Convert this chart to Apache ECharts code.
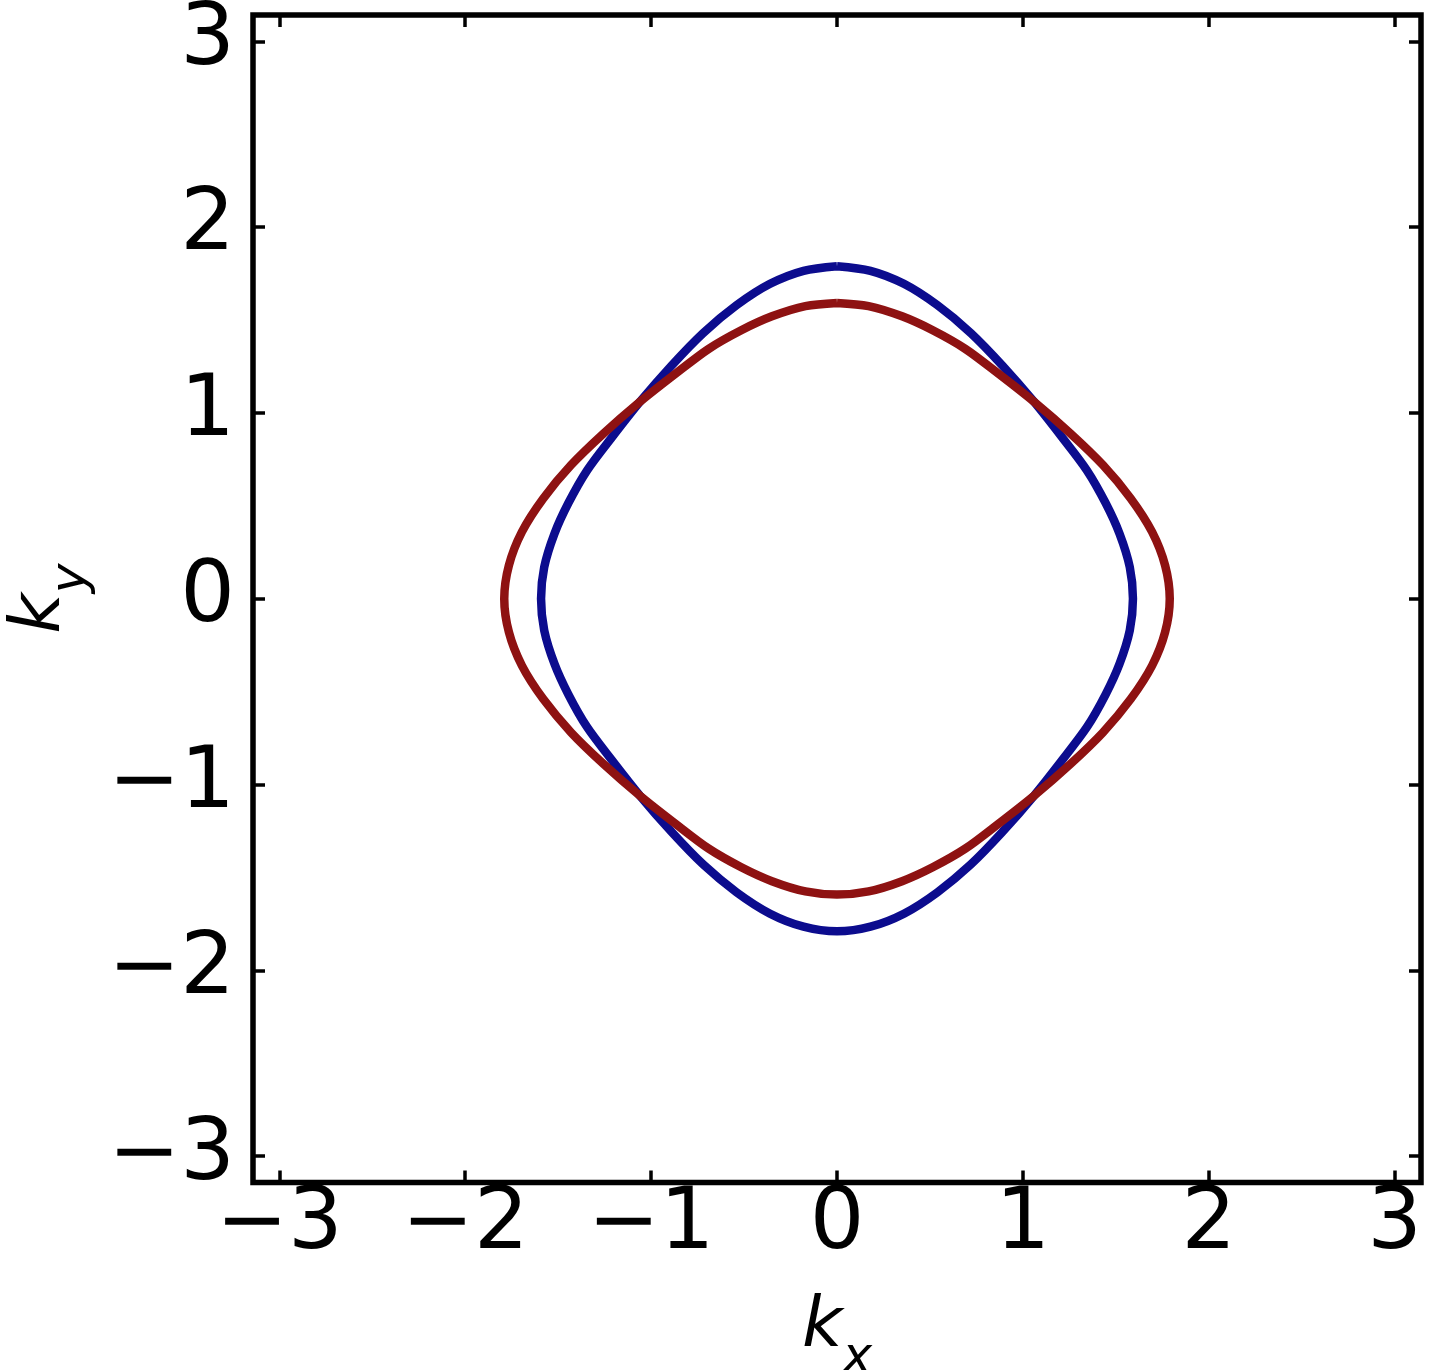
<!DOCTYPE html>
<html>
<head>
<meta charset="utf-8">
<script src="https://cdn.jsdelivr.net/npm/echarts@6/dist/echarts.min.js"></script>
<style>
  html, body { margin: 0; padding: 0; background: #fff; }
  #chart { width: 1436px; height: 1370px; }
</style>
</head>
<body>
<div id="chart"></div>
<script>
// Fermi contours (clockwise from the top)
const blueKx = [0, 0.18, 0.36, 0.54, 0.72, 0.89, 1.06, 1.21, 1.345, 1.445, 1.52, 1.575, 1.592,
  1.575, 1.52, 1.445, 1.345, 1.21, 1.06, 0.89, 0.72, 0.54, 0.36, 0.18, 0,
  -0.18, -0.36, -0.54, -0.72, -0.89, -1.06, -1.21, -1.345, -1.445, -1.52, -1.575, -1.592,
  -1.575, -1.52, -1.445, -1.345, -1.21, -1.06, -0.89, -0.72, -0.54, -0.36, -0.18, 0]
const blueKy = [1.79, 1.765, 1.695, 1.58, 1.43, 1.255, 1.06, 0.87, 0.69, 0.515, 0.35, 0.17, 0,
  -0.17, -0.35, -0.515, -0.69, -0.87, -1.06, -1.255, -1.43, -1.58, -1.695, -1.765, -1.79,
  -1.765, -1.695, -1.58, -1.43, -1.255, -1.06, -0.87, -0.69, -0.515, -0.35, -0.17, 0,
  0.17, 0.35, 0.515, 0.69, 0.87, 1.06, 1.255, 1.43, 1.58, 1.695, 1.765, 1.79]
const redKx = [0, 0.17, 0.35, 0.515, 0.69, 0.87, 1.06, 1.255, 1.43, 1.58, 1.695, 1.765, 1.79,
  1.765, 1.695, 1.58, 1.43, 1.255, 1.06, 0.87, 0.69, 0.515, 0.35, 0.17, 0,
  -0.17, -0.35, -0.515, -0.69, -0.87, -1.06, -1.255, -1.43, -1.58, -1.695, -1.765, -1.79,
  -1.765, -1.695, -1.58, -1.43, -1.255, -1.06, -0.87, -0.69, -0.515, -0.35, -0.17, 0]
const redKy = [1.592, 1.575, 1.52, 1.445, 1.345, 1.21, 1.06, 0.89, 0.72, 0.54, 0.36, 0.18, 0,
  -0.18, -0.36, -0.54, -0.72, -0.89, -1.06, -1.21, -1.345, -1.445, -1.52, -1.575, -1.592,
  -1.575, -1.52, -1.445, -1.345, -1.21, -1.06, -0.89, -0.72, -0.54, -0.36, -0.18, 0,
  0.18, 0.36, 0.54, 0.72, 0.89, 1.06, 1.21, 1.345, 1.445, 1.52, 1.575, 1.592]
const tickValues = [-3, -2, -1, 0, 1, 2, 3]

const font = 'DejaVu Sans'
const fmt = (v) => (v < 0 ? '\u2212' + Math.abs(v) : String(v))
const zip = (xs, ys) => xs.map((x, i) => [x, ys[i]])

function axis(position, showLabel, extra) {
  return Object.assign({
    type: 'value',
    position,
    min: -Math.PI,
    max: Math.PI,
    axisLine: { show: false, onZero: false },
    splitLine: { show: false },
    axisTick: { inside: true, length: 12, customValues: tickValues, lineStyle: { color: '#000', width: 3.5 } },
    axisLabel: {
      show: showLabel,
      customValues: tickValues,
      formatter: fmt,
      fontFamily: font,
      fontSize: 86,
      color: '#000'
    }
  }, extra)
}

const nameRich = {
  k: { fontFamily: font, fontStyle: 'italic', fontSize: 70, color: '#000', padding: [0, 0, 22, 0], verticalAlign: 'bottom' },
  s: { fontFamily: font, fontStyle: 'italic', fontSize: 50, color: '#000', verticalAlign: 'bottom' }
}

const chart = echarts.init(document.getElementById('chart'))
const xBottom = axis('bottom', true, {
  name: '{k|k}{s|x}', nameLocation: 'middle', nameGap: 110, nameTextStyle: { rich: nameRich }
})
xBottom.axisLabel.margin = 0
const yLeft = axis('left', true, {
  name: '{k|k}{s|y}', nameLocation: 'middle', nameGap: 153, nameRotate: 90, nameTextStyle: { rich: nameRich }
})
yLeft.axisLabel.margin = 18

chart.setOption({
  backgroundColor: '#fff',
  animation: false,
  grid: {
    left: 253, top: 15, width: 1168, height: 1167.5,
    containLabel: false, outerBoundsMode: 'none',
    show: true, borderColor: '#000', borderWidth: 5.5, backgroundColor: 'transparent'
  },
  xAxis: [xBottom, axis('top', false)],
  yAxis: [yLeft, axis('right', false)],
  series: [
    {
      type: 'line',
      data: zip(blueKx, blueKy),
      smooth: 0.3,
      showSymbol: false,
      lineStyle: { color: '#0c0c8e', width: 8.5 },
      z: 3
    },
    {
      type: 'line',
      data: zip(redKx, redKy),
      smooth: 0.3,
      showSymbol: false,
      lineStyle: { color: '#8e1212', width: 8.5 },
      z: 4
    }
  ]
})
</script>
</body>
</html>
